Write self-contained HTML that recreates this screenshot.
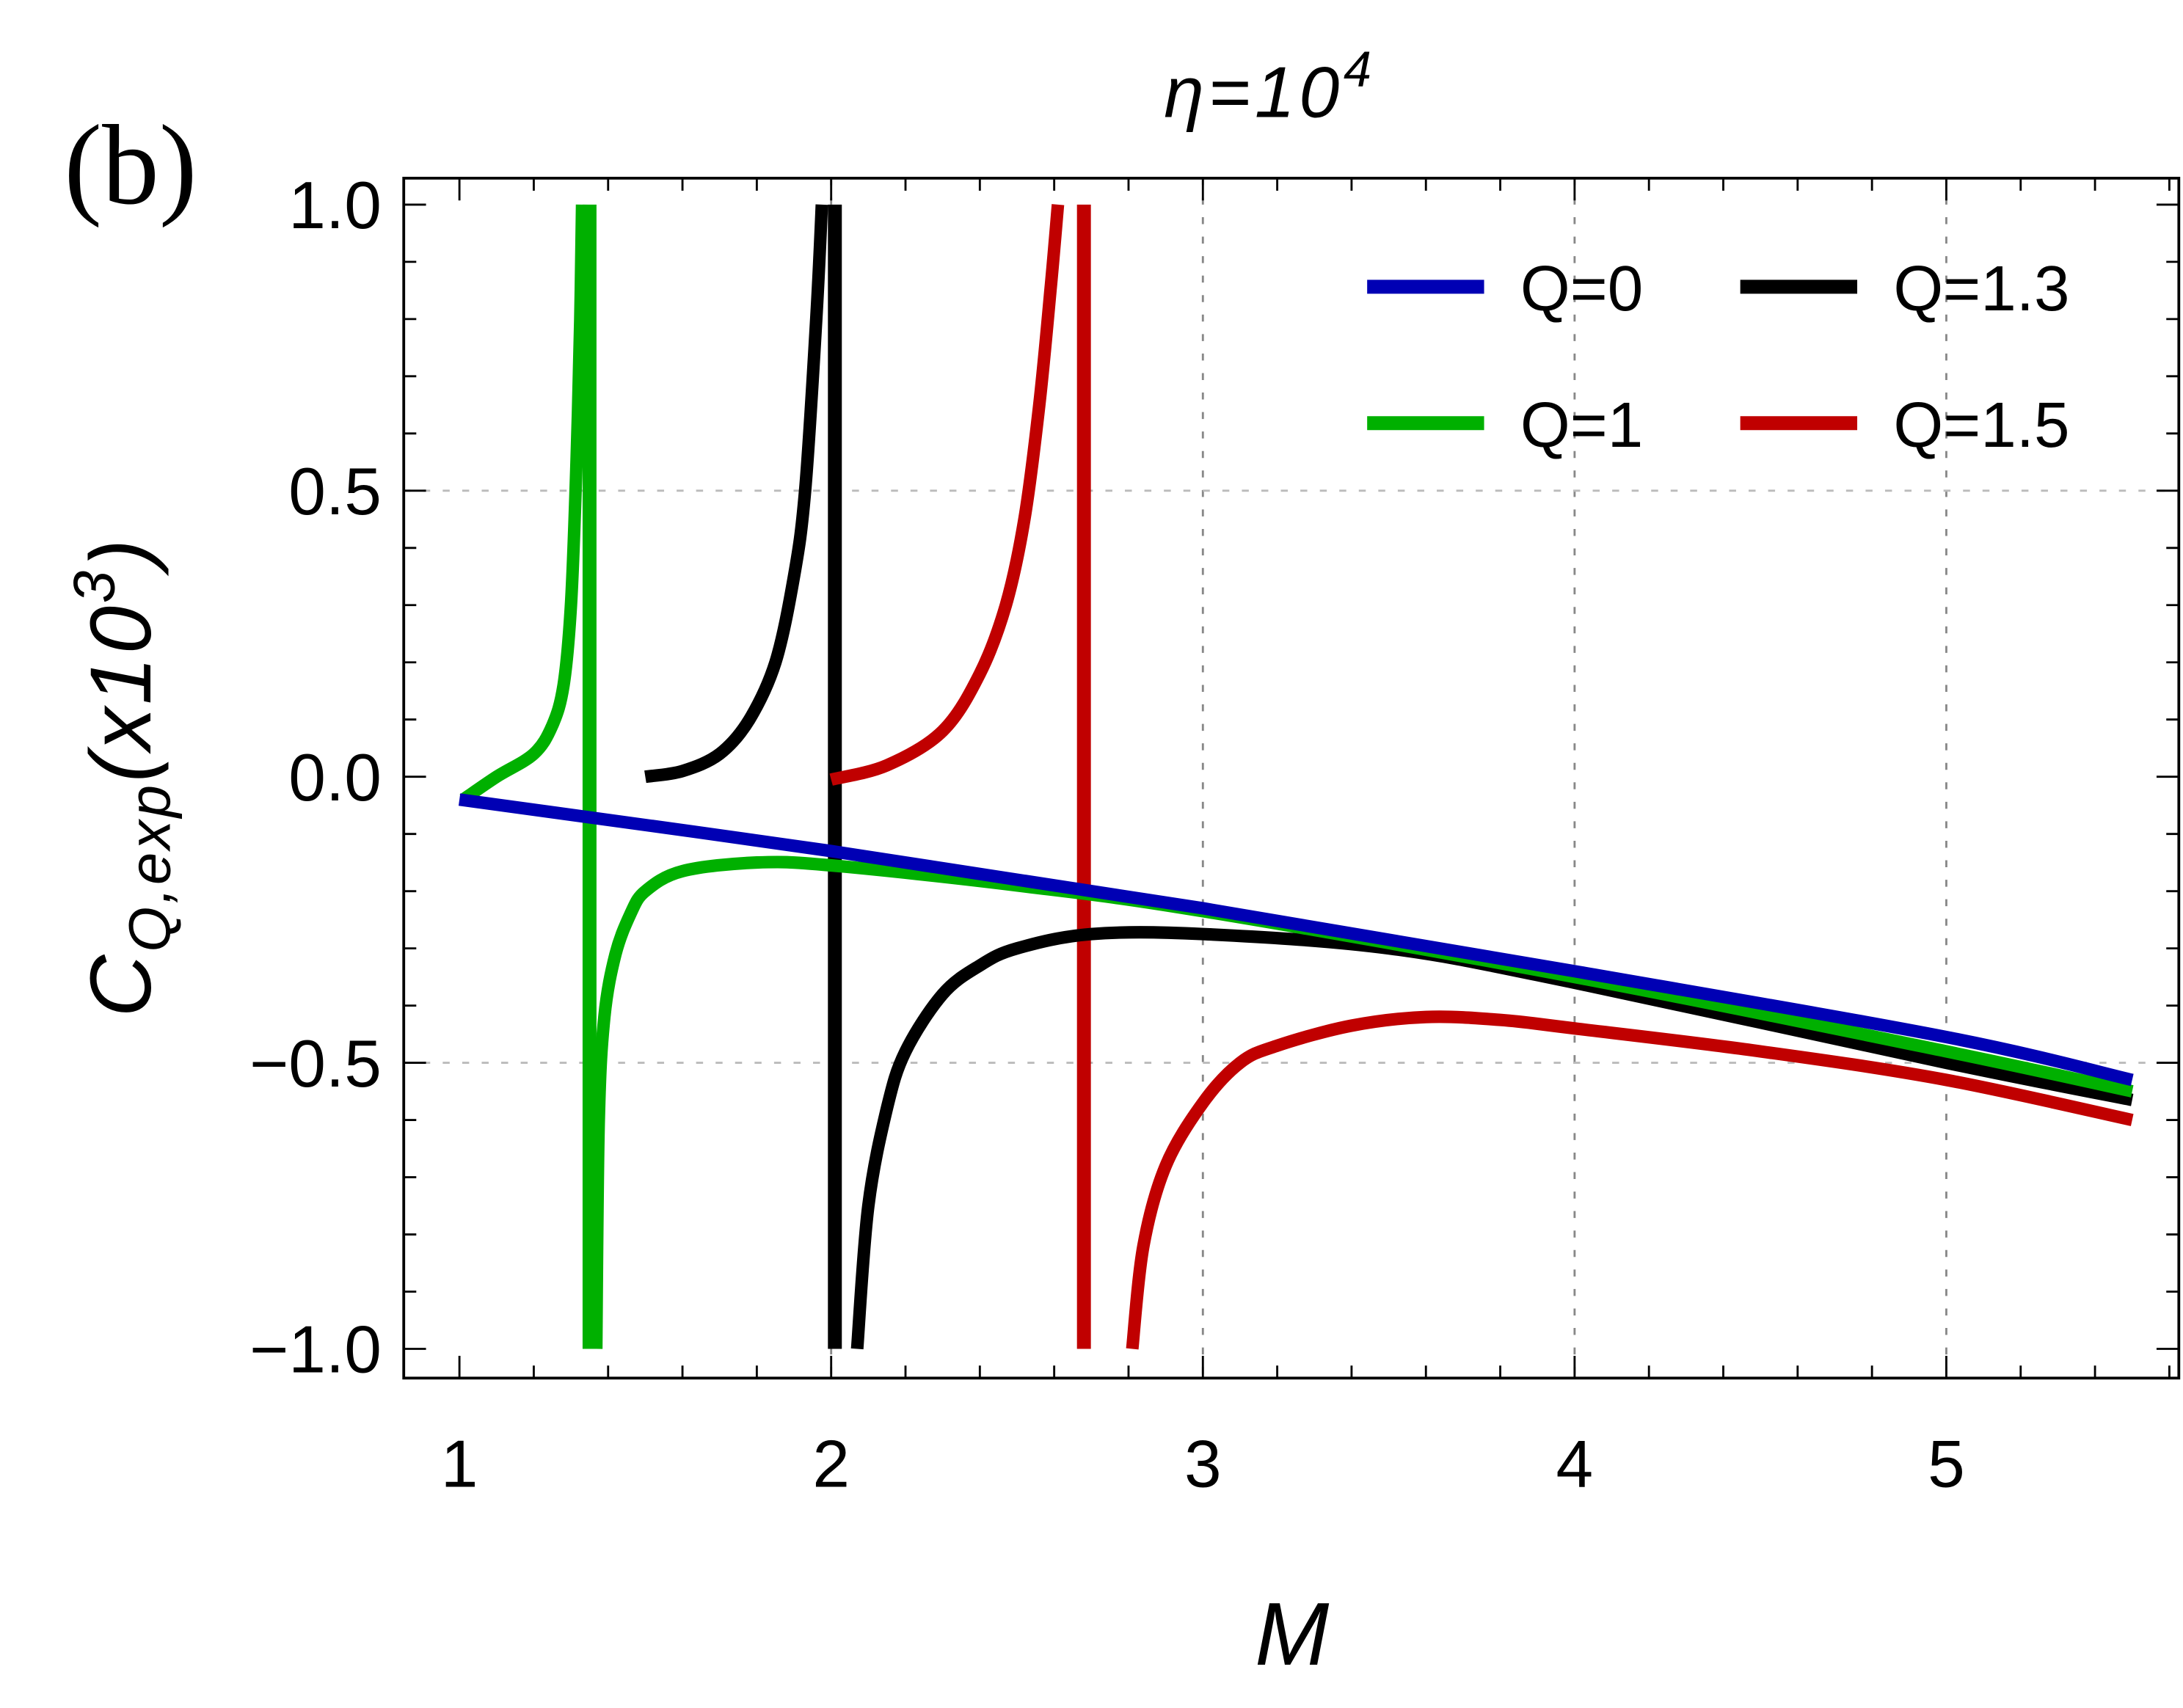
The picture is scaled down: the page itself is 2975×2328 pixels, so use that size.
<!DOCTYPE html>
<html><head><meta charset="utf-8"><style>
html,body{margin:0;padding:0;background:#fff;}
svg{display:block;}
</style></head><body>
<svg id="chart" width="2975" height="2328" viewBox="0 0 1568 1227" preserveAspectRatio="none" xmlns="http://www.w3.org/2000/svg">
<rect width="1568" height="1227" fill="#fff"/>
<text x="46" y="146" font-family="Liberation Serif, serif" font-size="82">(b)</text>
<text x="912" y="84" text-anchor="middle" font-family="Liberation Sans, DejaVu Sans, sans-serif" font-style="italic" font-size="52" letter-spacing="3">η=10<tspan dy="-22" font-size="36">4</tspan></text>
<text x="928" y="1196" text-anchor="middle" font-family="Liberation Sans, sans-serif" font-style="italic" font-size="64">M</text>
<text transform="translate(108,558) rotate(-90)" text-anchor="middle" font-family="Liberation Sans, sans-serif" font-style="italic" font-size="62" letter-spacing="2">C<tspan dy="14" font-size="42">Q,exp</tspan><tspan dy="-14">(x10</tspan><tspan dy="-26" font-size="42">3</tspan><tspan dy="26">)</tspan></text>
<g id="grid"></g>
<g id="series"></g>
<rect x="290" y="128" width="1275" height="862" fill="none" stroke="#000" stroke-width="2"/>
<g id="ticks"></g>
<g font-family="Liberation Sans, DejaVu Sans, sans-serif" font-size="46">
<g><line x1="982" y1="206" x2="1066" y2="206" stroke="#0000b4" stroke-width="10"/><text x="1092" y="223">Q=0</text></g>
<g><line x1="1250" y1="206" x2="1334" y2="206" stroke="#000" stroke-width="10"/><text x="1360" y="223">Q=1.3</text></g>
<g><line x1="982" y1="304" x2="1066" y2="304" stroke="#00b000" stroke-width="10"/><text x="1092" y="321">Q=1</text></g>
<g><line x1="1250" y1="304" x2="1334" y2="304" stroke="#c00000" stroke-width="10"/><text x="1360" y="321">Q=1.5</text></g>
</g>
</svg>
<script>
const xTicks=[1,2,3,4,5];
const yTicks=[1.0,0.5,0.0,-0.5,-1.0];
const yTickLabels=["1.0","0.5","0.0","\u22120.5","\u22121.0"];
const q0M=[1,2,3,4,5,5.5];
const q0V=[-0.04,-0.13,-0.23,-0.34,-0.455,-0.53];
const q1LeftM=[1.01,1.1,1.2,1.25,1.28,1.3,1.315,1.325,1.33];
const q1LeftV=[-0.04,-0.0,0.04,0.09,0.16,0.3,0.55,0.8,1.0];
const q1RightM=[1.368,1.375,1.39,1.42,1.46,1.5,1.6,1.8,2.0,2.5,3,4,5,5.5];
const q1RightV=[-1.0,-0.6,-0.42,-0.31,-0.24,-0.2,-0.165,-0.15,-0.155,-0.19,-0.235,-0.35,-0.48,-0.55];
const q13LeftM=[1.5,1.6,1.7,1.78,1.85,1.9,1.93,1.96,1.975];
const q13LeftV=[-0.0,0.01,0.04,0.1,0.2,0.35,0.5,0.8,1.0];
const q13RightM=[2.07,2.1,2.15,2.2,2.3,2.4,2.5,2.7,3,3.5,4,5,5.5];
const q13RightV=[-1.0,-0.75,-0.58,-0.48,-0.38,-0.33,-0.3,-0.275,-0.275,-0.3,-0.36,-0.5,-0.565];
const q15LeftM=[2.0,2.15,2.3,2.4,2.47,2.52,2.56,2.59,2.61];
const q15LeftV=[-0.005,0.02,0.08,0.18,0.3,0.45,0.65,0.85,1.0];
const q15RightM=[2.81,2.84,2.9,3.0,3.1,3.2,3.4,3.6,3.8,4,4.5,5,5.5];
const q15RightV=[-1.0,-0.82,-0.68,-0.57,-0.5,-0.47,-0.435,-0.42,-0.425,-0.44,-0.48,-0.53,-0.6];
const poles=[{m:1.35,c:"#00b000",n:"q1"},{m:2.01,c:"#000000",n:"q1.3"},{m:2.68,c:"#c00000",n:"q1.5"}];

const X=m=>330+(m-1)*267;
const Y=v=>558-v*411;
const NS="http://www.w3.org/2000/svg";
function mk(tag,attrs,parent){const e=document.createElementNS(NS,tag);for(const k in attrs)e.setAttribute(k,attrs[k]);parent.appendChild(e);return e;}
const grid=document.getElementById('grid'),ticks=document.getElementById('ticks'),series=document.getElementById('series');

xTicks.forEach(t=>{
  if(t>1){const g=mk('line',{x1:X(t),x2:X(t),y1:128,y2:990,stroke:'#888','stroke-width':1.5,'stroke-dasharray':'5 9'},grid);
  
  }
  const l=mk('text',{x:X(t),y:1068,'text-anchor':'middle','font-family':'Liberation Sans, DejaVu Sans, sans-serif','font-size':48},ticks);
  l.textContent=String(t);
  
  
});
yTicks.forEach((t,i)=>{
  if(Math.abs(t)===0.5){const g=mk('line',{x1:290,x2:1565,y1:Y(t),y2:Y(t),stroke:'#bbb','stroke-width':1.5,'stroke-dasharray':'5 9'},grid);
  
  }
  const l=mk('text',{x:274,y:Y(t)+17,'text-anchor':'end','font-family':'Liberation Sans, DejaVu Sans, sans-serif','font-size':48},ticks);
  l.textContent=yTickLabels[i];
  
  
});
for(let k=0;k<=23;k++){const m=1+k*0.2;const major=Math.abs(m-Math.round(m))<1e-6;const len=major?16:9;
  mk('line',{x1:X(m),x2:X(m),y1:990,y2:990-len,stroke:'#000','stroke-width':1.5},ticks);
  mk('line',{x1:X(m),x2:X(m),y1:128,y2:128+len,stroke:'#000','stroke-width':1.5},ticks);}
for(let k=-10;k<=10;k++){const v=k*0.1;const major=k%5===0;const len=major?16:9;
  mk('line',{x1:290,x2:290+len,y1:Y(v),y2:Y(v),stroke:'#000','stroke-width':1.5},ticks);
  mk('line',{x1:1565,x2:1565-len,y1:Y(v),y2:Y(v),stroke:'#000','stroke-width':1.5},ticks);}

function curve(ms,vs,color,name){
  const pts=ms.map((m,i)=>[X(m),Y(vs[i])]);
  let d='M'+pts[0][0].toFixed(1)+' '+pts[0][1].toFixed(1);
  for(let i=0;i<pts.length-1;i++){
    const p0=pts[Math.max(0,i-1)],p1=pts[i],p2=pts[i+1],p3=pts[Math.min(pts.length-1,i+2)];
    const c1=[p1[0]+(p2[0]-p0[0])/6,p1[1]+(p2[1]-p0[1])/6];
    const c2=[p2[0]-(p3[0]-p1[0])/6,p2[1]-(p3[1]-p1[1])/6];
    d+=' C'+c1.map(v=>v.toFixed(1)).join(' ')+' '+c2.map(v=>v.toFixed(1)).join(' ')+' '+p2[0].toFixed(1)+' '+p2[1].toFixed(1);
  }
  const p=mk('path',{d:d,fill:'none',stroke:color,'stroke-width':9,'stroke-linejoin':'round'},series);
  
  
}
poles.forEach(p=>{
  const l=mk('line',{x1:X(p.m),x2:X(p.m),y1:Y(1),y2:Y(-1),stroke:p.c,'stroke-width':10},series);
  
  
});
curve(q1LeftM,q1LeftV,'#00b000','series-q1-left');
curve(q13LeftM,q13LeftV,'#000','series-q1.3-left');
curve(q15LeftM,q15LeftV,'#c00000','series-q1.5-left');
curve(q15RightM,q15RightV,'#c00000','series-q1.5-right');
curve(q13RightM,q13RightV,'#000','series-q1.3-right');
curve(q1RightM,q1RightV,'#00b000','series-q1-right');
curve(q0M,q0V,'#0000b4','series-q0');
</script>
</body></html>
